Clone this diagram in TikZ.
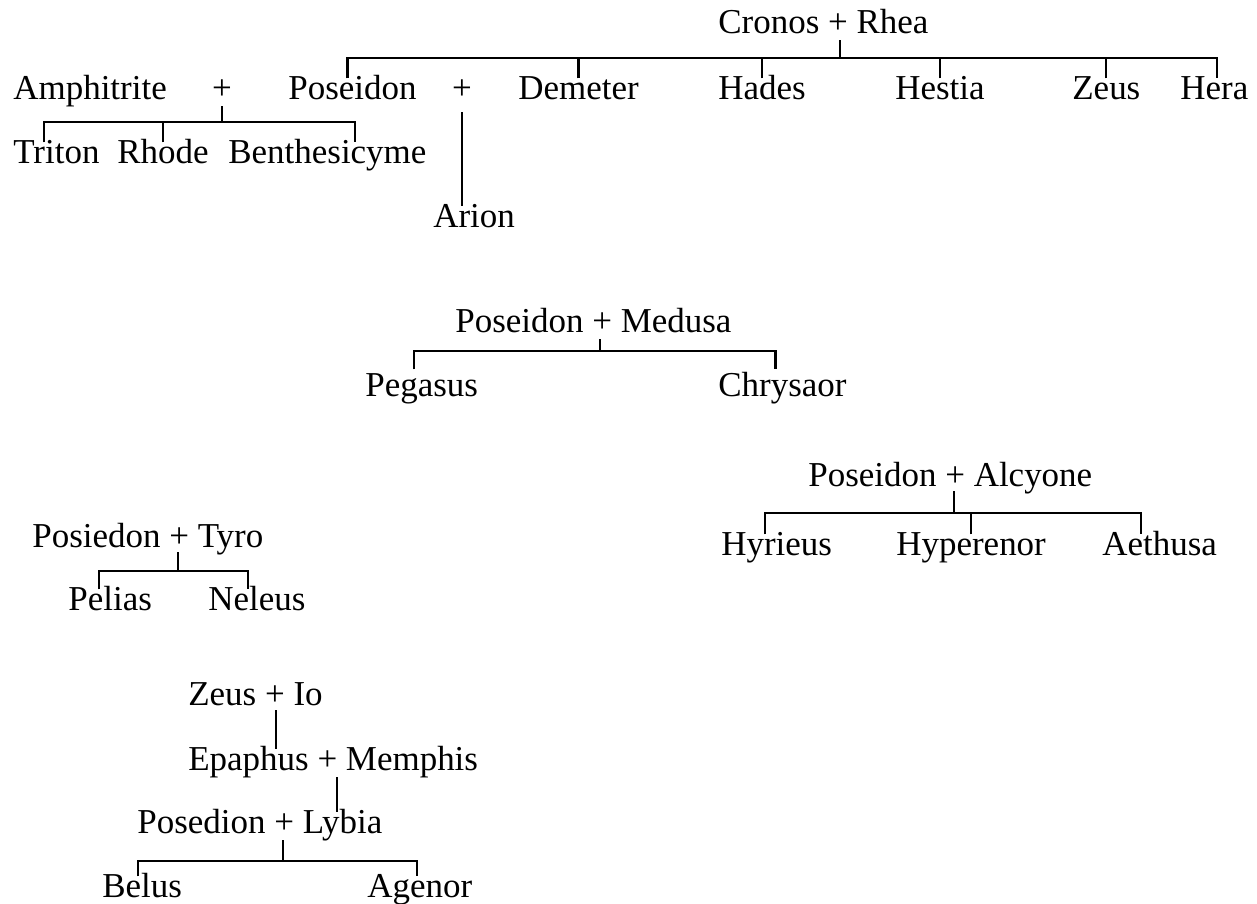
\documentclass[tikz,border=0pt]{standalone}
\usepackage{fontspec}
\setmainfont{Liberation Serif}
\usepackage{tikz}
\usetikzlibrary{calc,positioning}
\tikzset{
  person/.style={inner sep=0pt, anchor=base west, text height=11.5pt, text depth=4pt, font=\fontsize{19.9pt}{24pt}\selectfont},
  plus/.style={person, anchor=base},
  link/.style={draw=black, line width=1.2pt},
}

\begin{document}
\begin{tikzpicture}[x=0.02cm, y=-0.02cm]
\useasboundingbox (0,0) rectangle (1257,903);

% Cronos + Rhea and their children
\node[person] (cronos) at (718,33) {Cronos + Rhea};
\node[person] (amphitrite) at (13,99) {Amphitrite};
\node[plus] (amplus) at (222,99) {+};
\node[person] (poseidon) at (288,99) {Poseidon};
\node[plus] (arplus) at (462,99) {+};
\node[person] (demeter) at (518,99) {Demeter};
\node[person] (hades) at (718,99) {Hades};
\node[person] (hestia) at (895,99) {Hestia};
\node[person] (zeus) at (1072,99) {Zeus};
\node[person] (hera) at (1180,99) {Hera};
\node[person] (triton) at (13,163) {Triton};
\node[person] (rhode) at (117,163) {Rhode};
\node[person] (benth) at (228,163) {Benthesicyme};
\node[person] (arion) at (433,227) {Arion};

\coordinate (crplus) at (840,40);
\coordinate (crbar) at (840,58);
\draw[link] (crplus) -- (crbar);
\draw[link] ([shift={(-5,0)}]poseidon.north) |- (crbar) -| ([shift={(3,0)}]hera.north);
\foreach \n in {demeter,hades,hestia,zeus}
  \draw[link] (\n.north) -- (\n.north |- crbar);

\coordinate (ambar) at (222,122);
\draw[link] (amplus.south) -- (ambar);
\draw[link] ([shift={(-12,0)}]triton.north) |- (ambar) -| ([shift={(28,0)}]benth.north);
\draw[link] (rhode.north) -- (rhode.north |- ambar);

\draw[link] ([shift={(0,6)}]arplus.south) -- (arplus |- arion.north);

% Poseidon + Medusa
\node[person] (medusa) at (455,332) {Poseidon + Medusa};
\node[person] (pegasus) at (365,396) {Pegasus};
\node[person] (chrysaor) at (718,396) {Chrysaor};
\coordinate (meplus) at (600,339);
\coordinate (mebar) at (600,351);
\draw[link] (meplus) -- (mebar);
\draw[link] ([shift={(-8,-6)}]pegasus.north) |- (mebar) -| ([shift={(-7,-6)}]chrysaor.north);

% Poseidon + Alcyone
\node[person] (alcyone) at (808,486) {Poseidon + Alcyone};
\node[person] (hyrieus) at (721,555) {Hyrieus};
\node[person] (hyperenor) at (896,555) {Hyperenor};
\node[person] (aethusa) at (1102,555) {Aethusa};
\coordinate (alplus) at (954,491);
\coordinate (albar) at (954,513);
\draw[link] (alplus) -- (albar);
\draw[link] ([shift={(-12,0)}]hyrieus.north) |- (albar) -| ([shift={(-19,0)}]aethusa.north);
\draw[link] (hyperenor.north) -- (hyperenor.north |- albar);

% Posiedon + Tyro
\node[person] (tyro) at (32,547) {Posiedon + Tyro};
\node[person] (pelias) at (68,610) {Pelias};
\node[person] (neleus) at (208,610) {Neleus};
\coordinate (typlus) at (178,552);
\coordinate (tybar) at (178,571);
\draw[link] (typlus) -- (tybar);
\draw[link] ([shift={(-11,0)}]pelias.north) |- (tybar) -| ([shift={(-9,0)}]neleus.north);

% Zeus + Io down to Belus and Agenor
\node[person] (io) at (188,705) {Zeus + Io};
\node[person] (epaphus) at (188,770) {Epaphus + Memphis};
\node[person] (lybia) at (137,833) {Posedion + Lybia};
\node[person] (belus) at (102,897) {Belus};
\node[person] (agenor) at (367,897) {Agenor};
\coordinate (ioplus) at (276,710);
\draw[link] (ioplus) -- (ioplus |- epaphus.north);
\coordinate (epplus) at (337,777);
\draw[link] (epplus) -- (epplus |- lybia.north);
\coordinate (lyplus) at (283,840);
\coordinate (lybar) at (283,861);
\draw[link] (lyplus) -- (lybar);
\draw[link] ([shift={(-4,0)}]belus.north) |- (lybar) -| ([shift={(-3,0)}]agenor.north);
\end{tikzpicture}
\end{document}
